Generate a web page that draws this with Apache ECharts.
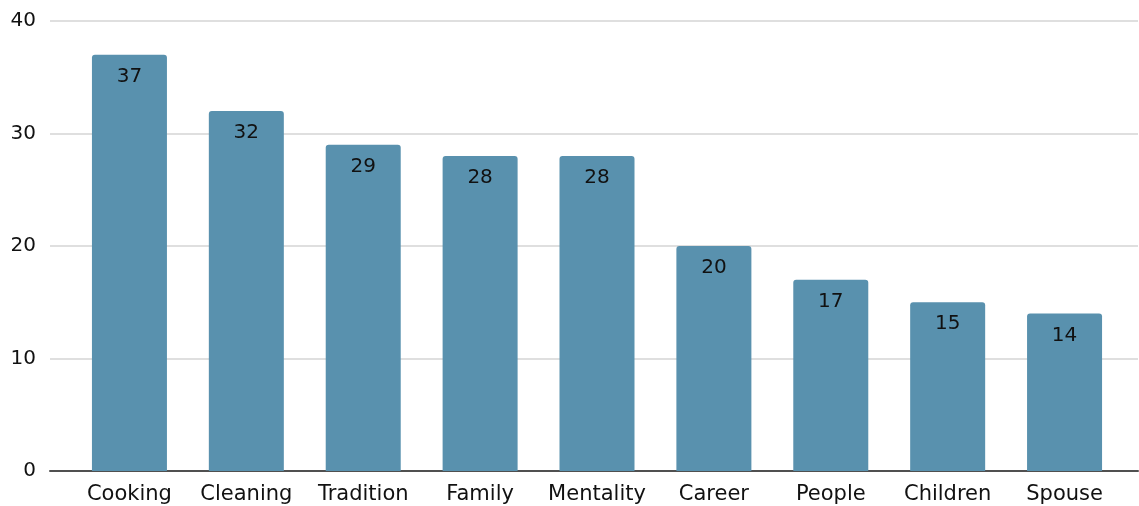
<!DOCTYPE html>
<html>
<head>
<meta charset="utf-8">
<script src="https://cdn.jsdelivr.net/npm/echarts@6/dist/echarts.min.js"></script>
<style>html,body{margin:0;padding:0;background:#fff;}#c{width:1139px;height:506px;}</style>
</head>
<body>
<div id="c"></div>
<script>
const categories = ["Cooking","Cleaning","Tradition","Family","Mentality","Career","People","Children","Spouse"];
const values = [37,32,29,28,28,20,17,15,14];
const yTicks = {min:0, max:40, interval:10};

const chart = echarts.init(document.getElementById('c'), null, {renderer:'canvas'});
const font = 'DejaVu Sans';
chart.setOption({
  animation:false,
  backgroundColor:'#ffffff',
  grid:[
    {left:71, right:16, top:21, bottom:35},
    {left:50, right:1, top:21, bottom:35}
  ],
  xAxis:[
    {type:'category', gridIndex:0, data:categories,
     axisLine:{show:false}, axisTick:{show:false},
     axisLabel:{interval:0, hideOverlap:false, fontFamily:font, fontSize:21, color:'#111', margin:13}},
    {type:'value', gridIndex:1, min:0, max:1,
     axisLine:{show:true, lineStyle:{color:'#505050', width:2}},
     axisTick:{show:false}, axisLabel:{show:false}, splitLine:{show:false}}
  ],
  yAxis:[
    {type:'value', gridIndex:0, min:yTicks.min, max:yTicks.max, interval:yTicks.interval, show:false, splitLine:{show:false}},
    {type:'value', gridIndex:1, min:yTicks.min, max:yTicks.max, interval:yTicks.interval,
     axisLine:{show:false}, axisTick:{show:false},
     axisLabel:{fontFamily:font, fontSize:20, color:'#111', margin:14},
     splitLine:{lineStyle:{color:'#d4d4d4', width:1.5}}}
  ],
  series:[{
    type:'bar', xAxisIndex:0, yAxisIndex:0, data:values,
    barWidth:75,
    itemStyle:{color:'#5991ae', borderRadius:[3,3,0,0]},
    label:{show:true, position:'insideTop', distance:12, fontFamily:font, fontSize:20, color:'#111'},
    z:3
  }]
});
</script>
</body>
</html>
